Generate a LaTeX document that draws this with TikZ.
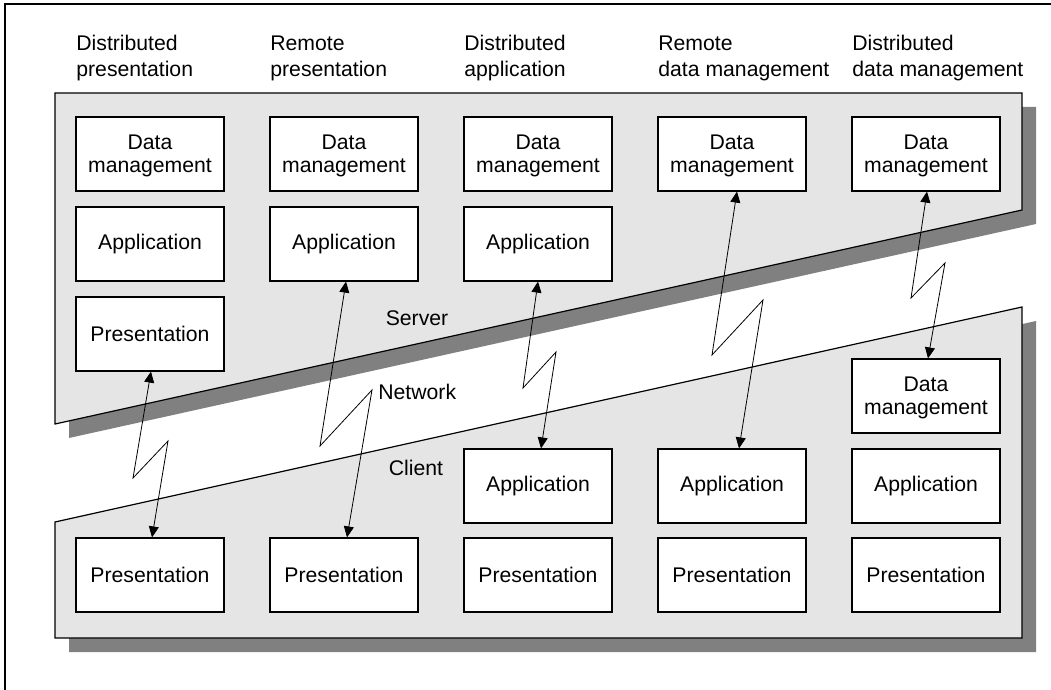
\documentclass[tikz,border=0pt]{standalone}
\usepackage{fontspec}
\setmainfont{Liberation Sans}
\usepackage{tikz}
\usetikzlibrary{arrows.meta}

\begin{document}
\begin{tikzpicture}[x=0.5pt,y=-0.5pt,
    tierbox/.style={draw,line width=0.6pt,fill=white,minimum width=74pt,minimum height=37pt,
      inner sep=0pt,align=center,font=\fontsize{10.6}{11.5}\selectfont},
    collabel/.style={anchor=north west,inner sep=0pt,align=left,font=\fontsize{10.6}{13}\selectfont},
    tierlabel/.style={inner sep=0pt,font=\fontsize{10.6}{13}\selectfont},
    link/.style={line width=0.4pt,{Triangle[length=5.5pt,width=5pt]}-{Triangle[length=5.5pt,width=5pt]}}]
    \useasboundingbox (0,0) rectangle (1051,690);
    \draw[line width=0.6pt] (1051,4) -- (5,4) -- (5,690);
    % shadows
    \fill[black!50] (69,107) -- (1036,107) -- (1036,224) -- (69,438) -- cycle;
    \fill[black!50] (69,536) -- (1036,321) -- (1036,652) -- (69,652) -- cycle;
    % server and client
    \draw[line width=0.6pt,fill=black!10] (55,93) -- (1022,93) -- (1022,210) -- (55,424) -- cycle;
    \draw[line width=0.6pt,fill=black!10] (55,522) -- (1022,307) -- (1022,638) -- (55,638) -- cycle;
    % column titles
    \node[collabel] (t1) at (76,35) {\vphantom{Db}Distributed\\presentation};
    \node[collabel] (t2) at (270,35) {\vphantom{Db}Remote\\presentation};
    \node[collabel] (t3) at (464,35) {\vphantom{Db}Distributed\\application};
    \node[collabel] (t4) at (658,35) {\vphantom{Db}Remote\\data management};
    \node[collabel] (t5) at (852,35) {\vphantom{Db}Distributed\\data management};
    % server side
    \foreach \c/\x in {1/150, 2/344, 3/538, 4/732, 5/926} {
      \node[tierbox] (sdm\c) at (\x,154) {\rule{0pt}{9pt}Data\\management};
      \node[tierbox] (cpres\c) at (\x,575) {Presentation};
    }
    \foreach \c/\x in {1/150, 2/344, 3/538} {
      \node[tierbox] (sapp\c) at (\x,244) {Application};
    }
    \node[tierbox] (spres1) at (150,334) {Presentation};
    % client side
    \foreach \c/\x in {3/538, 4/732, 5/926} {
      \node[tierbox] (capp\c) at (\x,486) {Application};
    }
    \node[tierbox] (cdm5) at (926,396) {\rule{0pt}{9pt}Data\\management};
    % tiers
    \node[tierlabel] (server) at (417,318) {Server};
    \node[tierlabel] (client) at (416,468) {Client};
    % network links
    \draw[link] ([xshift=0.5pt]spres1.south) -- (133,478) -- (168,441) -- ([xshift=1pt]cpres1.north);
    \draw[link] ([xshift=1pt]sapp2.south) -- (320,446) -- (372,390) -- ([xshift=1.5pt]cpres2.north);
    \draw[link] (sapp3.south) -- (523,388) -- (556,352) -- ([xshift=1.5pt]capp3.north);
    \draw[link] ([xshift=2.5pt]sdm4.south) -- (712,355) -- (763,300) -- ([xshift=3.5pt]capp4.north);
    \draw[link] ([xshift=0.5pt]sdm5.south) -- (911,298) -- (945,263) -- ([xshift=1pt]cdm5.north);
    \node[tierlabel,anchor=west] (network) at (378,392) {Network};
\end{tikzpicture}
\end{document}
